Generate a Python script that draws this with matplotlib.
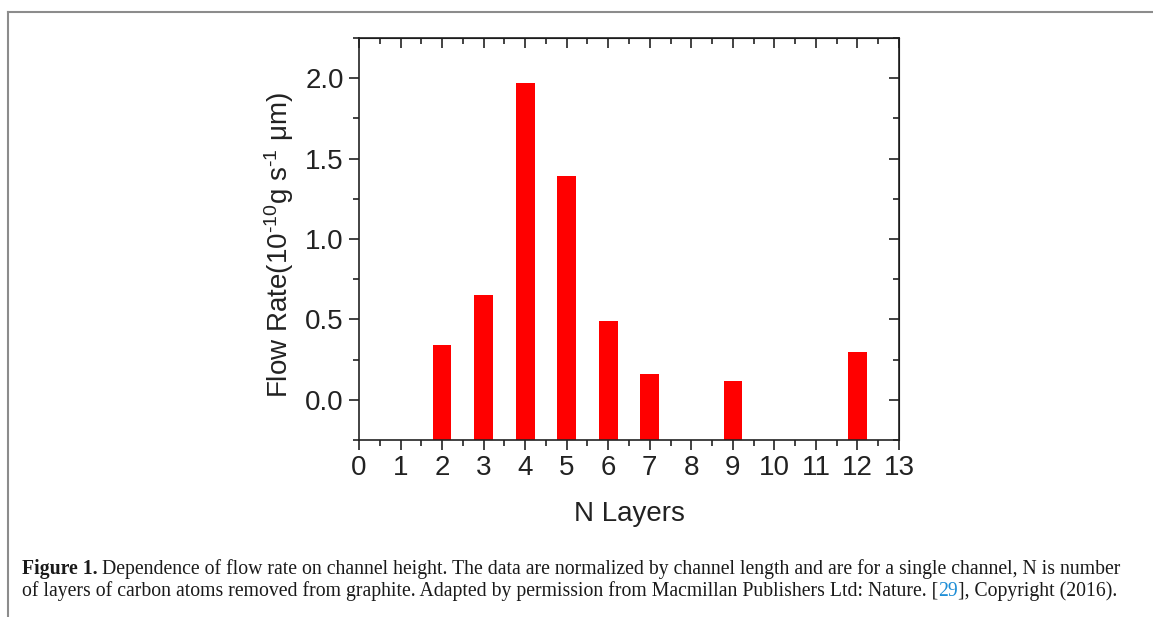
import matplotlib.pyplot as plt
from matplotlib.ticker import MultipleLocator
from matplotlib.lines import Line2D

# dados
layers = [2, 3, 4, 5, 6, 7, 9, 12]
flow_rate = [0.34, 0.65, 1.97, 1.39, 0.49, 0.16, 0.12, 0.30]
x_ticks = list(range(0, 14))
y_ticks = [0.0, 0.5, 1.0, 1.5, 2.0]

ymin, ymax = -0.25, 2.25

plt.rcParams['font.family'] = ['Liberation Sans', 'DejaVu Sans']
plt.rcParams['mathtext.fontset'] = 'custom'
plt.rcParams['mathtext.rm'] = 'Liberation Sans'
plt.rcParams['mathtext.it'] = 'Liberation Sans'

fig = plt.figure(figsize=(11.53, 6.17), dpi=100)
ax = fig.add_axes([359 / 1153, 1 - 440 / 617, 540 / 1153, 402 / 617])

# barras partem do fundo do eixo (estilo Origin)
ax.bar(layers, [v - ymin for v in flow_rate], bottom=ymin, width=0.45,
       color='#ff0000', edgecolor='none')

ax.set_xlim(0, 13)
ax.set_ylim(ymin, ymax)
ax.set_xticks(x_ticks)
ax.set_yticks(y_ticks)
ax.set_yticklabels([f"{v:.1f}" for v in y_ticks])
ax.xaxis.set_minor_locator(MultipleLocator(0.5))
ax.yaxis.set_minor_locator(MultipleLocator(0.25))

for s in ax.spines.values():
    s.set_linewidth(1.2)
    s.set_color('#222222')

ax.tick_params(which='both', direction='out', top=False, right=False,
               labelsize=20, colors='#222222', width=1.2)
ax.tick_params(which='major', length=7, pad=4)
ax.tick_params(which='minor', length=4)

# ticks espelhados para dentro no topo e à direita
sec_x = ax.secondary_xaxis('top')
sec_x.set_xticks(x_ticks)
sec_x.xaxis.set_minor_locator(MultipleLocator(0.5))
sec_x.tick_params(which='both', direction='in', labeltop=False, width=1.2, colors='#222222')
sec_x.tick_params(which='major', length=7)
sec_x.tick_params(which='minor', length=4)
sec_y = ax.secondary_yaxis('right')
sec_y.set_yticks(y_ticks)
sec_y.yaxis.set_minor_locator(MultipleLocator(0.25))
sec_y.tick_params(which='both', direction='in', labelright=False, width=1.2, colors='#222222')
sec_y.tick_params(which='major', length=7)
sec_y.tick_params(which='minor', length=4)

ax.set_xlabel('N Layers', fontsize=20, labelpad=14, color='#222222')
ax.set_ylabel('Flow Rate(10$^{\\text{-10}}$g s$^{\\text{-1}}$ \u03bcm)',
              fontsize=20, color='#222222')
ax.yaxis.set_label_coords(-0.117, 0.485)

# moldura da figura
fig.add_artist(Line2D([8 / 1153, 1.0], [1 - 12 / 617, 1 - 12 / 617], color='#8c8c8c', lw=1.5))
fig.add_artist(Line2D([8 / 1153, 8 / 1153], [0.0, 1 - 12 / 617], color='#8c8c8c', lw=1.5))

# legenda (caption)
cap_font = dict(family='Liberation Serif', fontsize=14.2, color='#1a1a1a')
x0 = 22 / 1153
y1 = 1 - 574 / 617
y2 = 1 - 596 / 617
fig.canvas.draw()
renderer = fig.canvas.get_renderer()

def put(x, y, s, **kw):
    opts = dict(cap_font)
    opts.update(kw)
    t = fig.text(x, y, s, va='baseline', ha='left', **opts)
    bb = t.get_window_extent(renderer=renderer)
    return bb.x1 / fig.bbox.width

x = put(x0, y1, 'Figure 1.', fontweight='bold')
put(x + 4 / 1153, y1, 'Dependence of flow rate on channel height. The data are normalized by channel length '
    'and are for a single channel, N is number')
x = put(x0, y2, 'of layers of carbon atoms removed from graphite. Adapted by permission from Macmillan '
        'Publishers Ltd: Nature. [')
x = put(x, y2, '29', color='#1f8ed6')
put(x, y2, '], Copyright (2016).')

fig.savefig('out.png', dpi=100)
